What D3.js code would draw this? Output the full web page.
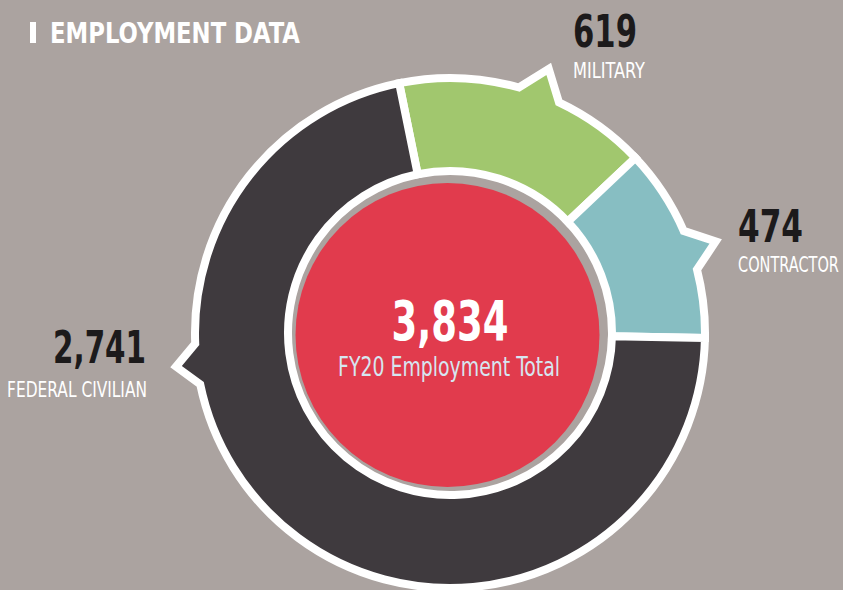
<!doctype html>
<html lang="en">
  <head>
    <meta charset="utf-8">
    <title>Employment Data</title>
    <style>
      html, body { margin: 0; padding: 0; background: #aba3a0; }
      svg { display: block; }
    </style>
  </head>
  <body>
    <script src="https://cdn.jsdelivr.net/npm/d3@7"></script>
    <script>

    // data
    var categories = ["MILITARY", "CONTRACTOR", "FEDERAL CIVILIAN"];
    var values     = [619, 474, 2741];
    var valueLabels = ["619", "474", "2,741"];
    var totalLabel = "3,834";
    var totalCaption = "FY20 Employment Total";
    var title = "EMPLOYMENT DATA";

    var colors = ["#a1c76e", "#87bec2", "#3f3a3e"];

    var width = 843, height = 590;
    var cx = 450, cy = 333;
    var outerR = 255, innerR = 162;
    var deg = Math.PI / 180;

    // where each callout pointer sits (degrees, clockwise from 12 o'clock)
    var pointers = [
      { angle: 20.5, half: 4.8, tip: 282 },
      { angle: 71,   half: 4.6, tip: 281 },
      { angle: 263,  half: 4.6, tip: 276 }
    ];

    // label anchors
    var labelPos = [
      { x: 573, y: 47, anchor: "start", numW: 64, catW: 72, catY: 78 },
      { x: 738, y: 242, anchor: "start", numW: 65, catW: 101, catY: 272 },
      { x: 146, y: 363, anchor: "end", numW: 93, catW: 140, catY: 397 }
    ];

    var condensed = "'Liberation Sans Narrow', 'DejaVu Sans Condensed', 'Roboto Condensed', sans-serif";

    var svg = d3.select("body")
      .append("svg")
      .attr("width", width)
      .attr("height", height);

    svg.append("rect")
      .attr("width", width)
      .attr("height", height)
      .attr("fill", "#aba3a0");

    // text squeezed horizontally to a target width (fonts here are wider than the original)
    function fitText(parent, str, x, y, w, anchor, size, weight, fill) {
      var g = parent.append("g");
      var t = g.append("text")
        .attr("text-anchor", anchor)
        .style("font-family", condensed)
        .style("font-weight", weight)
        .style("font-size", size + "px")
        .attr("fill", fill)
        .text(str);
      var natural = t.node().getComputedTextLength();
      var sx = Math.min(1, w / natural);
      g.attr("transform", "translate(" + x + "," + y + ") scale(" + sx + ",1)");
      return g;
    }

    var start = -11.5 * deg;
    var pie = d3.pie()
      .sort(null)
      .startAngle(start)
      .endAngle(start + 2 * Math.PI);

    var arcs = pie(values);

    // canvas angle: 0 = 3 o'clock
    function ca(a) { return a - Math.PI / 2; }

    function segmentPath(d, p) {
      var path = d3.path();
      var a0 = d.startAngle, a1 = d.endAngle;
      var b0 = (p.angle - p.half) * deg, b1 = (p.angle + p.half) * deg;
      var t = p.angle * deg;
      path.moveTo(cx + innerR * Math.cos(ca(a0)), cy + innerR * Math.sin(ca(a0)));
      path.lineTo(cx + outerR * Math.cos(ca(a0)), cy + outerR * Math.sin(ca(a0)));
      path.arc(cx, cy, outerR, ca(a0), ca(b0), false);
      path.lineTo(cx + p.tip * Math.cos(ca(t)), cy + p.tip * Math.sin(ca(t)));
      path.lineTo(cx + outerR * Math.cos(ca(b1)), cy + outerR * Math.sin(ca(b1)));
      path.arc(cx, cy, outerR, ca(b1), ca(a1), false);
      path.lineTo(cx + innerR * Math.cos(ca(a1)), cy + innerR * Math.sin(ca(a1)));
      path.arc(cx, cy, innerR, ca(a1), ca(a0), true);
      path.closePath();
      return path.toString();
    }

    svg.selectAll(".seg")
      .data(arcs)
      .enter()
      .append("path")
      .attr("class", "seg")
      .attr("d", function(d, i){ return segmentPath(d, pointers[i]); })
      .attr("fill", function(d, i){ return colors[i]; })
      .attr("stroke", "#ffffff")
      .attr("stroke-width", 8)
      .attr("stroke-linejoin", "miter")
      .attr("stroke-miterlimit", 10);

    // red center disc, a touch offset from the ring
    svg.append("circle")
      .attr("cx", cx - 2.5)
      .attr("cy", cy + 2)
      .attr("r", 152)
      .attr("fill", "#e13b4d");

    fitText(svg, totalLabel, cx, 340, 117, "middle", 56, 700, "#ffffff");
    fitText(svg, totalCaption, cx - 1, 376, 222, "middle", 26, 400, "#d6e6f1");

    // segment labels
    categories.forEach(function(c, i) {
      var p = labelPos[i];
      fitText(svg, valueLabels[i], p.x, p.y, p.numW, p.anchor, 45, 700, "#1c1a1b");
      fitText(svg, c, p.x + (p.anchor === "end" ? 1 : 0), p.catY, p.catW, p.anchor, 21, 400, "#ffffff");
    });

    // title
    svg.append("rect")
      .attr("x", 30)
      .attr("y", 22)
      .attr("width", 6)
      .attr("height", 21)
      .attr("fill", "#ffffff");

    fitText(svg, title, 50, 43, 250, "start", 29, 700, "#ffffff");

    </script>
  </body>
</html>
